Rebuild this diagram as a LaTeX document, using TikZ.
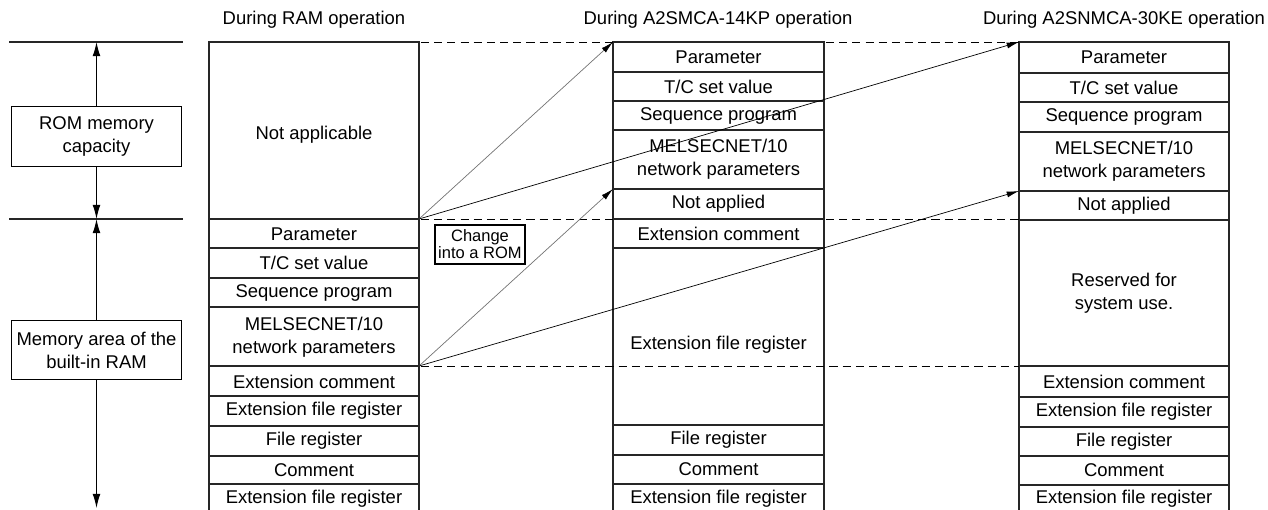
\documentclass[tikz,border=0pt]{standalone}
\usepackage{fontspec}
\setmainfont{Liberation Sans}
\usetikzlibrary{arrows.meta, positioning}

\tikzset{
  cell/.style={align=center, inner sep=0pt, font=\fontsize{10.5}{13}\selectfont},
  sidebox/.style={cell, draw, line width=0.7pt, minimum width=3.4cm, minimum height=1.19cm},
  notebox/.style={draw, line width=0.7pt, align=center, inner sep=0pt,
    minimum width=1.8cm, minimum height=0.78cm, font=\fontsize{9.4}{8.6}\selectfont},
  frame/.style={line width=0.7pt, draw=black!85},
  sep/.style={line width=0.6pt, draw=black!85},
  guide/.style={line width=0.45pt, dash pattern=on 4.6pt off 2.9pt},
  dimarrow/.style={line width=0.6pt, -{Latex[length=8pt,width=4.4pt]}},
  copyarrow/.style={line width=0.4pt, -{Latex[length=7pt,width=3.4pt,color=black]}}
}

\begin{document}
\begin{tikzpicture}[x=0.02cm, y=-0.02cm]
\useasboundingbox (0,0) rectangle (1268,510);

\node[cell] (ttlram) at (314,20) {During RAM operation};
\node[cell] (ttlkp) at (718,20) {During A2SMCA-14KP operation};
\node[cell] (ttlke) at (1124,20) {During A2SNMCA-30KE operation};

% left scale
\draw[sep] (9,42) -- (183,42);
\draw[sep] (9,219) -- (183,219);
\coordinate (romtop) at (96.5,42);
\coordinate (romend) at (96.5,219);
\coordinate (ramend) at (96.5,508);
\node[sidebox] (rom) at (96.5,136.5) {ROM memory\\capacity};
\node[sidebox] (ram) at (96.5,350) {Memory area of the\\built-in RAM};
\draw[dimarrow] (rom) -- (romtop);
\draw[dimarrow] (rom) -- (romend);
\draw[dimarrow] (ram) -- (romend);
\draw[dimarrow] (ram) -- (ramend);

% RAM column
\draw[frame] (209,510) -- (209,42) -- (419,42) -- (419,510);
\draw[sep] (209,219) -- (419,219);
\draw[sep] (209,248) -- (419,248);
\draw[sep] (209,278) -- (419,278);
\draw[sep] (209,307) -- (419,307);
\draw[sep] (209,366) -- (419,366);
\draw[sep] (209,396) -- (419,396);
\draw[sep] (209,426) -- (419,426);
\draw[sep] (209,456) -- (419,456);
\draw[sep] (209,484) -- (419,484);
\node[cell] (r0) at (314,135) {Not applicable};
\node[cell] (r1) at (314,234) {Parameter};
\node[cell] (r2) at (314,263) {T/C set value};
\node[cell] (r3) at (314,292.5) {Sequence program};
\node[cell] (r4) at (314,337) {MELSECNET/10\\network parameters};
\node[cell] (r5) at (314,381.5) {Extension comment};
\node[cell] (r6) at (314,411) {Extension file register};
\node[cell] (r7) at (314,441) {File register};
\node[cell] (r8) at (314,470) {Comment};
\node[cell] (r9) at (314,498.5) {Extension file register};

% A2SMCA-14KP column
\draw[frame] (613,510) -- (613,42) -- (824,42) -- (824,510);
\draw[sep] (613,72) -- (824,72);
\draw[sep] (613,101) -- (824,101);
\draw[sep] (613,130) -- (824,130);
\draw[sep] (613,189) -- (824,189);
\draw[sep] (613,219) -- (824,219);
\draw[sep] (613,248) -- (824,248);
\draw[sep] (613,425) -- (824,425);
\draw[sep] (613,455) -- (824,455);
\draw[sep] (613,484) -- (824,484);
\node[cell] (p1) at (718.5,57) {Parameter};
\node[cell] (p2) at (718.5,86.5) {T/C set value};
\node[cell] (p3) at (718.5,115.5) {Sequence program};
\node[cell] (p4) at (718.5,159.5) {MELSECNET/10\\network parameters};
\node[cell] (p5) at (718.5,204) {Not applied};
\node[cell] (p6) at (718.5,233.5) {Extension comment};
\node[cell] (p7) at (718.5,345) {Extension file register};
\node[cell] (p8) at (718.5,440) {File register};
\node[cell] (p9) at (718.5,469.5) {Comment};
\node[cell] (p10) at (718.5,498.5) {Extension file register};

% A2SNMCA-30KE column
\draw[frame] (1019,510) -- (1019,42) -- (1229,42) -- (1229,510);
\draw[sep] (1019,73) -- (1229,73);
\draw[sep] (1019,102) -- (1229,102);
\draw[sep] (1019,132) -- (1229,132);
\draw[sep] (1019,191) -- (1229,191);
\draw[sep] (1019,220) -- (1229,220);
\draw[sep] (1019,366) -- (1229,366);
\draw[sep] (1019,397) -- (1229,397);
\draw[sep] (1019,427) -- (1229,427);
\draw[sep] (1019,456) -- (1229,456);
\draw[sep] (1019,485) -- (1229,485);
\node[cell] (e1) at (1124,57.5) {Parameter};
\node[cell] (e2) at (1124,87.5) {T/C set value};
\node[cell] (e3) at (1124,117) {Sequence program};
\node[cell] (e4) at (1124,161.5) {MELSECNET/10\\network parameters};
\node[cell] (e5) at (1124,205.5) {Not applied};
\node[cell] (e6) at (1124,293) {Reserved for\\system use.};
\node[cell] (e7) at (1124,381.5) {Extension comment};
\node[cell] (e8) at (1124,412) {Extension file register};
\node[cell] (e9) at (1124,441.5) {File register};
\node[cell] (e10) at (1124,470.5) {Comment};
\node[cell] (e11) at (1124,498.5) {Extension file register};

% guides
\draw[guide] (421,42) -- (613,42);
\draw[guide] (826,42) -- (1019,42);
\draw[guide] (421,219) -- (613,219);
\draw[guide] (826,219) -- (1019,219);
\draw[guide] (421,366) -- (1019,366);

% copy into ROM
\coordinate (romsrc) at (419,219);
\coordinate (netsrc) at (419,366);
\coordinate (kptop) at (613,42);
\coordinate (kpnet) at (613,189);
\coordinate (ketop) at (1019,42);
\coordinate (kenet) at (1019,191);
\draw[copyarrow, draw=black!55] (romsrc) -- (kptop);
\draw[copyarrow, draw=black!55] (netsrc) -- (kpnet);
\draw[copyarrow] (romsrc) -- (ketop);
\draw[copyarrow] (netsrc) -- (kenet);
\node[notebox, fill=white] (chg) at (480,244.5) {Change\\into a ROM};
\end{tikzpicture}
\end{document}
